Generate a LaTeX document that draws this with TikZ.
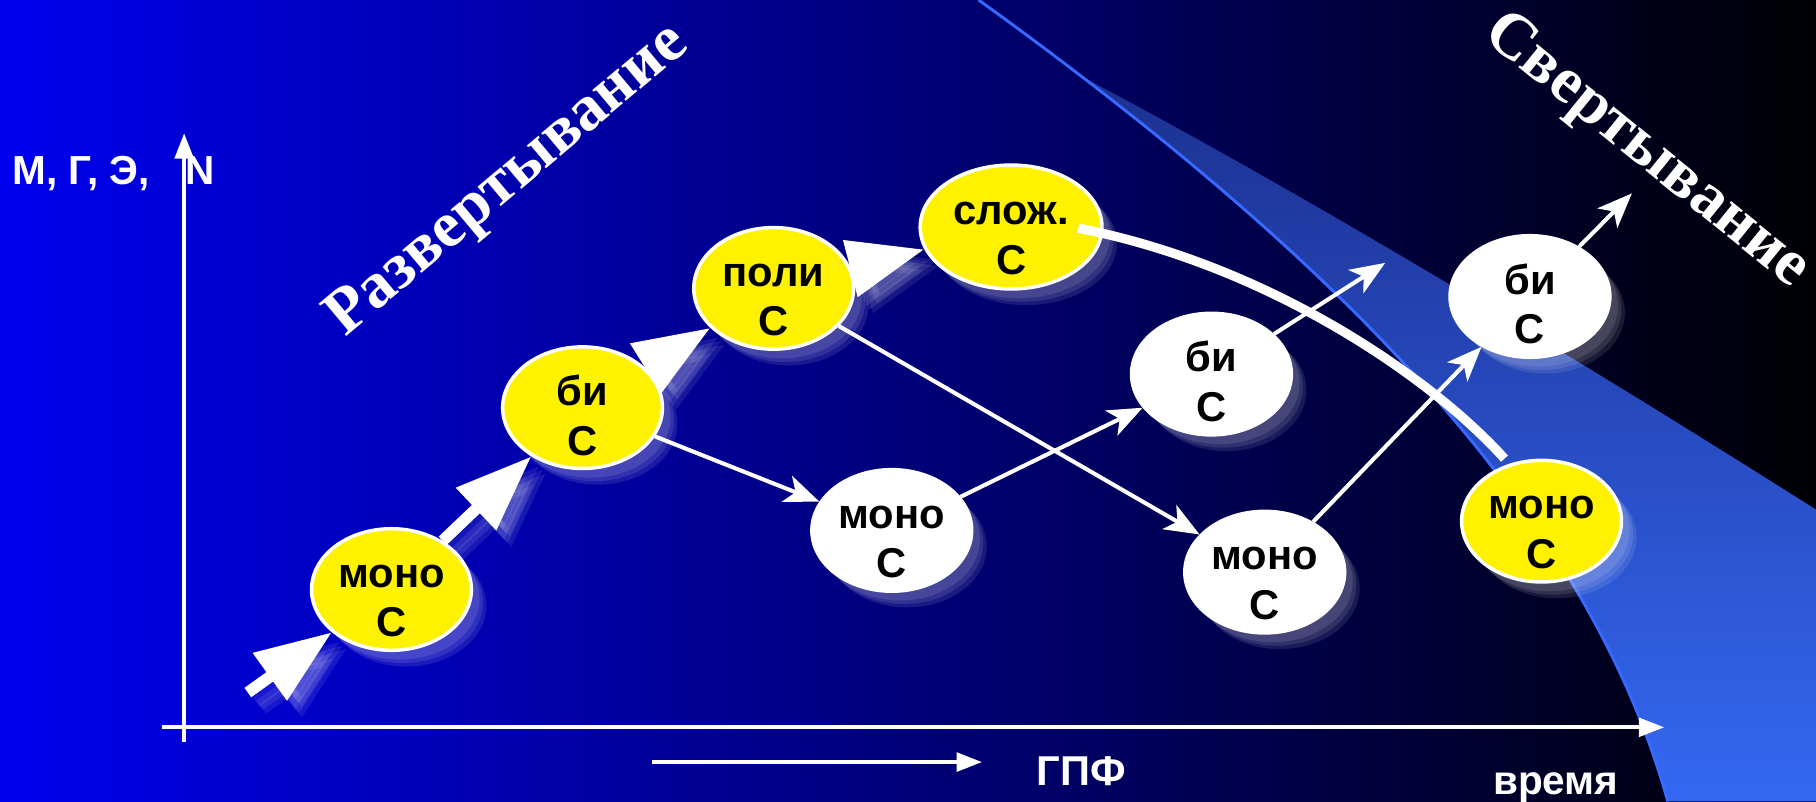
\documentclass[tikz,border=0pt]{standalone}
\usepackage{fontspec}
\setmainfont{Liberation Sans}
\newfontfamily\timesfont{Liberation Serif}
\usetikzlibrary{shapes.geometric,arrows.meta,calc}
\pgfdeclarelayer{bglayer}
\pgfdeclarelayer{edgelayer}
\pgfdeclarelayer{toplayer}
\pgfsetlayers{bglayer,edgelayer,main,toplayer}
\definecolor{bgL}{RGB}{0,0,238}
\definecolor{bgM}{RGB}{0,0,150}
\definecolor{bgR}{RGB}{0,0,4}
\definecolor{swT}{RGB}{28,48,145}
\definecolor{swB}{RGB}{52,104,242}
\definecolor{swLine}{RGB}{55,105,255}
\newcommand\twoline[2]{\raisebox{-41pt}[0pt][0pt]{\begin{tabular}[b]{@{}c@{}}#1\\#2\end{tabular}}}
\begin{document}
\begin{tikzpicture}[x=1pt,y=-1pt,
  halo/.style={preaction={fill=white, fill opacity=#1, draw=none,
      transform canvas={shift={(7pt,-8pt)}}},
    preaction={fill=white, fill opacity=#1, draw=none,
      transform canvas={shift={(10pt,-11pt)}}},
    preaction={fill=white, fill opacity=#1, draw=none,
      transform canvas={shift={(13pt,-14pt)}}}},
  nd/.style={ellipse, draw=white, line width=3pt, minimum width=138pt,
    minimum height=105pt, inner sep=0pt, text=black,
    font=\fontsize{36}{43}\selectfont\bfseries, halo=0.1},
  yel/.style={nd, fill=yellow},
  wht/.style={nd, fill=white},
  bigarrow/.style={draw=white, line width=10pt, -{Triangle[length=66pt,width=48pt]}},
  bigshadow/.style={bigarrow, opacity=0.09},
  thinarrow/.style={draw=white, line width=3.5pt, -{Stealth[length=30pt,width=24pt,inset=8pt]}},
  axisarrow/.style={draw=white, line width=3.5pt, -{Triangle[length=22pt,width=16pt]}},
  lbl/.style={text=white, font=\fontsize{35}{40}\selectfont\bfseries, inner sep=0pt},
  ttl/.style={text=white, font=\timesfont\fontsize{56}{60}\selectfont\bfseries, inner sep=0pt},
  curveline/.style={draw=white, line width=8pt}
]
\useasboundingbox (0,0) rectangle (1568,692);

% nodes
\node[yel] (m1) at (338,509) {\twoline{моно}{С}};
\node[yel] (b1) at (503,352) {\twoline{би}{С}};
\node[yel] (p1) at (668,249) {\twoline{поли}{С}};
\node[yel, minimum width=157pt, minimum height=107pt] (s1) at (873,196) {\twoline{слож.}{С}};
\node[wht] (m2) at (770,458) {\twoline{моно}{С}};
\node[wht] (b2) at (1046,323) {\twoline{би}{С}};
\node[wht] (m3) at (1092,494) {\twoline{моно}{С}};
\node[wht] (b3) at (1321,256) {\twoline{би}{С}};
\node[yel] (m4) at (1331,450) {\twoline{моно}{С}};

% labels
\node[lbl, anchor=base west] (ylab) at (10.5,159) {М, Г, Э,};
\node[lbl, anchor=base west] (ylabn) at (160,159) {N};
\node[lbl, anchor=base west, font=\fontsize{36}{40}\selectfont\bfseries] (gpf) at (895,678) {ГПФ};
\node[lbl, anchor=base west] (time) at (1289,686) {время};
\node[ttl, rotate=40] (razv) at (439,157) {Развертывание};
\node[ttl, rotate=-39] (sver) at (1421,131) {Свертывание};

% coordinates
\coordinate (s0) at (214,598);
\coordinate (f1) at (1196,227);
\coordinate (f2) at (1409,167);
\coordinate (yb) at (159,641);
\coordinate (yt) at (159,115);
\coordinate (xl) at (140,628);
\coordinate (xr) at (1437,628);
\coordinate (ga) at (563,658);
\coordinate (gb) at (848,658);

\begin{pgfonlayer}{bglayer}
\shade[left color=bgL, middle color=bgM, right color=bgR] (0,0) rectangle (1568,692);
\shade[top color=swT, bottom color=swB] (933.9,66) .. controls (1192.5,264.3) and (1377,465.2) .. (1440,692) -- (1568,692) -- (1568,440) .. controls (1410,340) and (1150,180) .. (933.9,66) -- cycle;
\draw[swLine, line width=2.5pt] (845,0) .. controls (1150,220) and (1370,440) .. (1440,692);
\end{pgfonlayer}

\begin{pgfonlayer}{edgelayer}
\draw[axisarrow] (yb) -- (yt);
\draw[axisarrow] (xl) -- (xr);
\draw[axisarrow] (ga) -- (gb);
\foreach \dx/\dy in {7/-8,10/-11,13/-14}{
  \draw[bigshadow, transform canvas={shift={(\dx pt,\dy pt)}}] (s0) -- (m1);
  \draw[bigshadow, transform canvas={shift={(\dx pt,\dy pt)}}] (m1) -- (b1);
  \draw[bigshadow, transform canvas={shift={(\dx pt,\dy pt)}}] (b1) -- (p1);
  \draw[bigshadow, transform canvas={shift={(\dx pt,\dy pt)}}] (p1) -- (s1);
}
\draw[bigarrow] (s0) -- (m1);
\draw[bigarrow] (m1) -- (b1);
\draw[bigarrow] (b1) -- (p1);
\draw[bigarrow] (p1) -- (s1);
\draw[thinarrow] (b1) -- (m2);
\draw[thinarrow] (p1) -- (m3);
\draw[thinarrow] (m2) -- (b2);
\draw[thinarrow] (b2) -- (f1);
\draw[thinarrow] (m3) -- (b3);
\draw[thinarrow] (b3) -- (f2);
\end{pgfonlayer}

\begin{pgfonlayer}{toplayer}
\draw[curveline] ($(s1.center)+(58,1)$) .. controls (1100,230) and (1240,330) .. ($(m4.north)+(-32,0)$);
\end{pgfonlayer}
\end{tikzpicture}
\end{document}
